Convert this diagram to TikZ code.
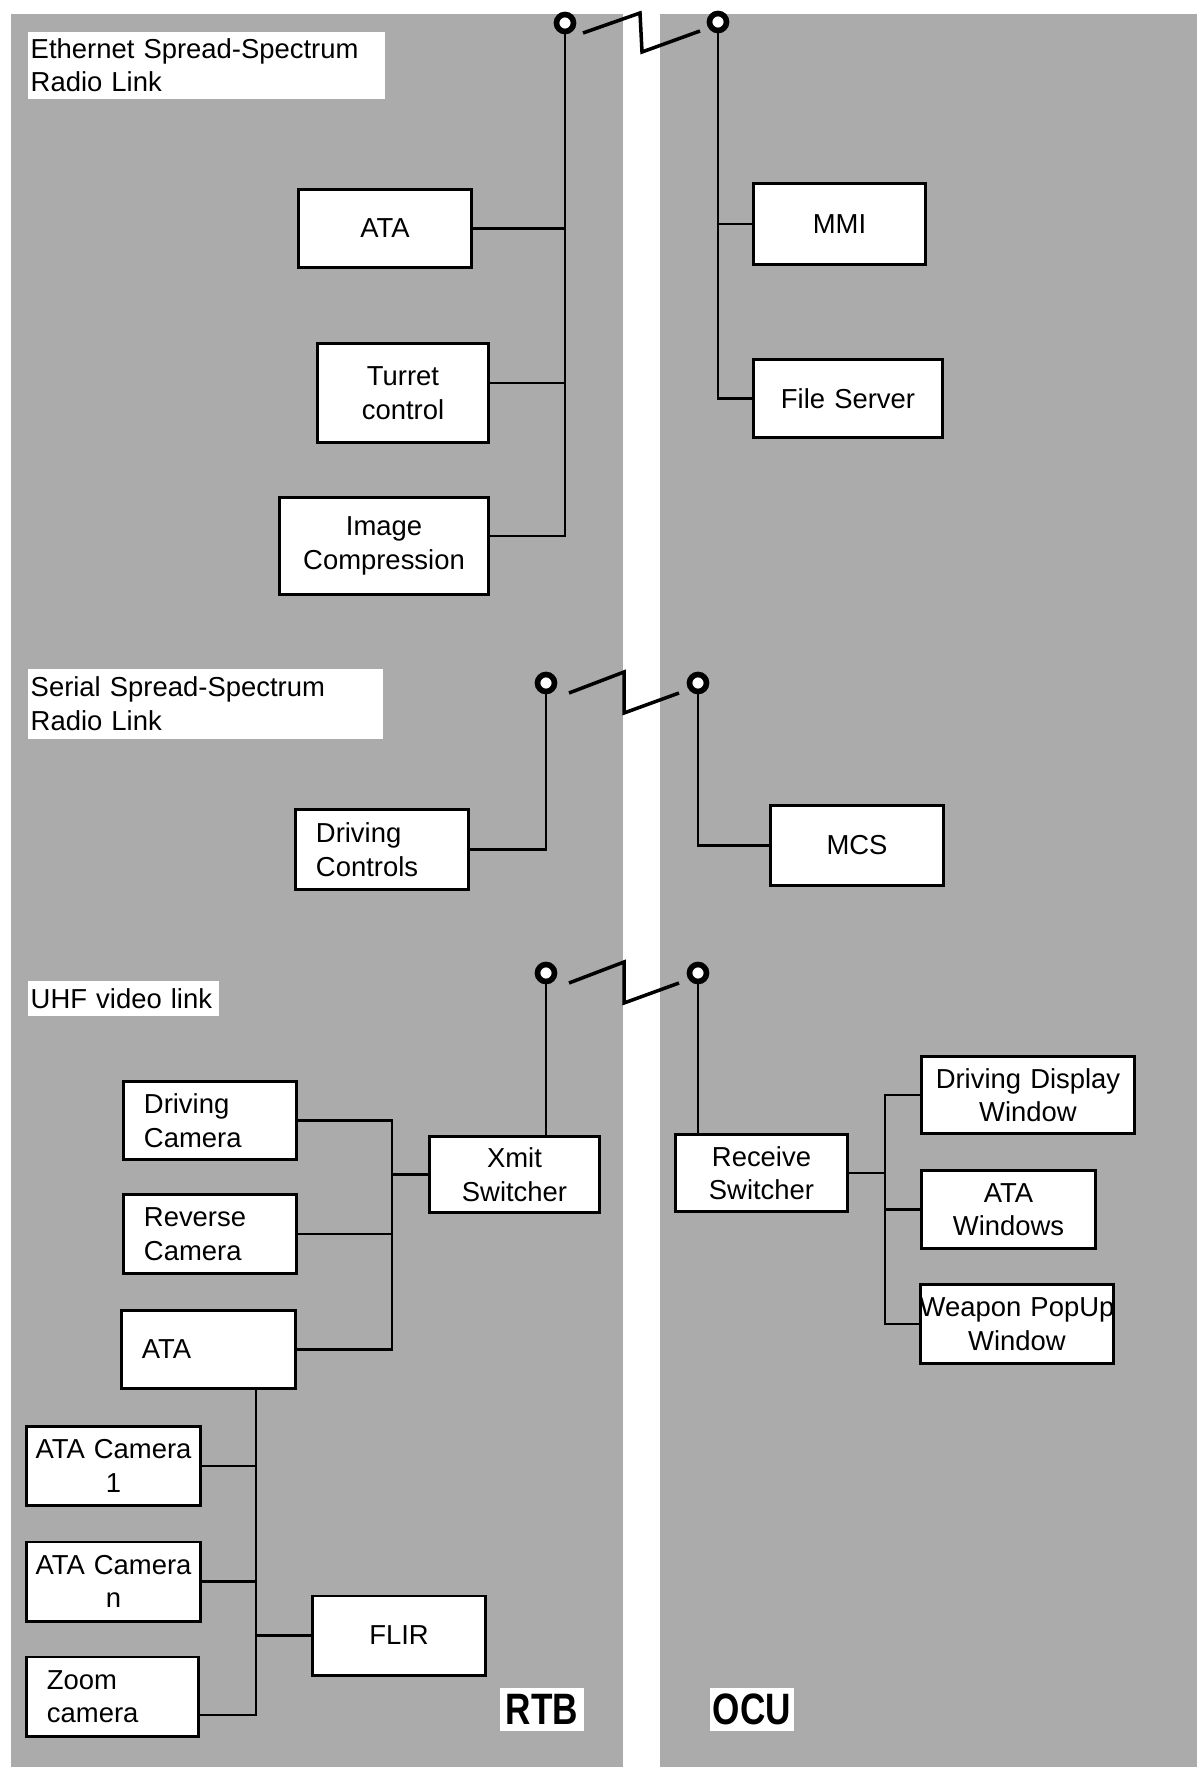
\documentclass[tikz,border=0pt]{standalone}
\usepackage{fontspec}
\setmainfont{Liberation Sans}
\usepackage{tikz}

\begin{document}
\begin{tikzpicture}[
  x=0.01cm, y=-0.01cm,
  panel/.style={fill=black!33},
  box/.style={rectangle, draw, fill=white, line width=0.85pt, inner xsep=0pt, inner ysep=0pt, minimum height=0.78cm, text width=#1, align=center, font=\fontsize{7.8}{9.5}\selectfont},
  box/.default=1.72cm,
  lbox/.style={box, inner xsep=0.2cm, text width=#1, align=left},
  lbox/.default=1.32cm,
  tag/.style={fill=white, anchor=north west, inner xsep=0.03cm, inner ysep=0pt, align=left, font=\fontsize{7.8}{9.5}\selectfont},
  side/.style={fill=white, minimum width=0.84cm, minimum height=0.43cm, inner sep=0pt, font=\fontsize{12.5}{13}\selectfont\bfseries},
  ant/.style={circle, draw, fill=white, line width=1.6pt, minimum size=0.17cm, inner sep=0pt},
  wire/.style={line width=0.8pt},
  zig/.style={line width=1pt, line join=miter},
]
  \useasboundingbox (0,0) rectangle (1197,1767);
  \fill[panel] (11,14) rectangle (623,1767);
  \fill[panel] (660,14) rectangle (1197,1767);

  \node[tag, text width=3.51cm, minimum height=0.67cm] (ethlbl) at (27,31) {Ethernet Spread-Spectrum\\Radio Link};
  \node[tag, text width=3.49cm, minimum height=0.70cm] (serlbl) at (27,668) {Serial Spread-Spectrum\\Radio Link};
  \node[tag, text width=1.85cm, minimum height=0.35cm] (uhflbl) at (27,980) {\mbox{UHF video link}};

  \node[ant] (antA) at (565,23) {};
  \node[ant] (antB) at (718,22) {};
  \node[ant] (antC) at (546,683) {};
  \node[ant] (antD) at (698,683) {};
  \node[ant] (antE) at (546,973) {};
  \node[ant] (antF) at (698,973) {};

  \node[box] (ata1) at (385,228.5) {ATA};
  \node[box=1.70cm, minimum height=0.98cm] (turret) at (403,393) {Turret\\control};
  \node[box=2.08cm, minimum height=0.96cm] (imgc) at (384,546) {Image\\Compression};
  \node[box=1.71cm, minimum height=0.80cm] (mmi) at (839.5,224) {MMI};
  \node[box=1.88cm, minimum height=0.77cm] (fsrv) at (848,398.5) {File Server};

  \node[lbox, minimum height=0.79cm] (dctl) at (382,849.5) {Driving\\Controls};
  \node[box, minimum height=0.79cm] (mcs) at (857,845.5) {MCS};

  \node[box=1.69cm, minimum height=0.75cm] (xmit) at (514.5,1174.5) {Xmit\\Switcher};
  \node[lbox, minimum height=0.77cm] (dcam) at (210,1120.5) {Driving\\Camera};
  \node[lbox] (rcam) at (210,1234) {Reverse\\Camera};
  \node[lbox=1.33cm, minimum height=0.77cm] (ata2) at (208.5,1349.5) {ATA};
  \node[box=1.73cm] (cam1) at (113.5,1466) {ATA Camera\\1};
  \node[box=1.73cm, minimum height=0.79cm] (camn) at (113.5,1581.5) {ATA Camera\\n};
  \node[box, minimum height=0.79cm] (flir) at (399,1635.5) {FLIR};
  \node[lbox=1.31cm, minimum height=0.79cm] (zcam) at (112.5,1696.5) {Zoom\\camera};

  \node[box=1.71cm, minimum height=0.76cm] (recv) at (761.5,1173) {Receive\\Switcher};
  \node[box=2.12cm, minimum height=0.76cm] (ddw) at (1028,1095) {Driving Display\\Window};
  \node[box=1.73cm, minimum height=0.77cm] (atw) at (1008.5,1209.5) {ATA\\Windows};
  \node[box=1.92cm] (wpw) at (1017,1324) {\makebox[\linewidth][c]{Weapon PopUp}\\Window};

  \node[side] (rtb) at (542,1709.5) {\scalebox{0.8}[1]{RTB}};
  \node[side] (ocu) at (752,1709.5) {\scalebox{0.8}[1]{OCU}};

  \draw[zig] (antA) ++(18,10) -- ++(57,-20) -- ++(2,39) -- ++(58,-21);
  \draw[zig] (antC) ++(23,10) -- ++(55,-21) -- ++(0,41) -- ++(55,-20);
  \draw[zig] (antE) ++(23,10) -- ++(55,-21) -- ++(0,41) -- ++(55,-20);

  \draw[wire] (antA.south) |- ([yshift=0.1cm]imgc.east);
  \draw[wire] (ata1.east) -- (ata1.east -| antA);
  \draw[wire] ([yshift=0.1cm]turret.east) -- ([yshift=0.1cm]turret.east -| antA);
  \draw[wire] (antB.south) |- (fsrv.west);
  \draw[wire] (mmi.west) -- (mmi.west -| antB);

  \draw[wire] (antC.south) |- (dctl.east);
  \draw[wire] (antD.south) |- (mcs.west);

  \coordinate (xbus) at (392,1174.5);
  \coordinate (abus) at (256,1714);
  \draw[wire] (antE.south) -- (antE |- xmit.north);
  \draw[wire] (dcam.east) -| (xbus) -- (xmit.west);
  \draw[wire] (ata2.east) -| (xbus);
  \draw[wire] (rcam.east) -- (rcam.east -| xbus);
  \draw[wire] (ata2.south -| abus) |- (zcam.-12);
  \draw[wire] (cam1.east) -- (cam1.east -| abus);
  \draw[wire] (camn.east) -- (camn.east -| abus);
  \draw[wire] (flir.west) -- (flir.west -| abus);

  \coordinate (rbus) at (885,1173);
  \draw[wire] (antF.south) -- (antF |- recv.north);
  \draw[wire] (recv.east) -- (rbus);
  \draw[wire] (ddw.west) -| (rbus) |- (wpw.west);
  \draw[wire] (atw.west) -- (atw.west -| rbus);
\end{tikzpicture}
\end{document}
